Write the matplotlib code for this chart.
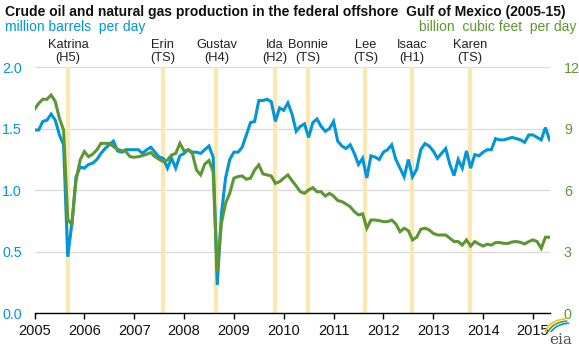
import matplotlib
matplotlib.use('Agg')
import matplotlib.pyplot as plt
import numpy as np
from matplotlib.patches import Arc

plt.rcParams['font.family'] = ['Liberation Sans', 'DejaVu Sans']

# monthly values, Jan 2005 - May 2015
oil = [1.49, 1.49, 1.56, 1.57, 1.62, 1.57, 1.45, 1.37, 0.46, 0.73, 1.11, 1.19,
       1.18, 1.21, 1.22, 1.25, 1.30, 1.34, 1.37, 1.40, 1.32, 1.31, 1.33, 1.33,
       1.33, 1.33, 1.30, 1.33, 1.35, 1.31, 1.27, 1.26, 1.18, 1.26, 1.18, 1.28,
       1.30, 1.33, 1.31, 1.31, 1.30, 1.33, 1.36, 1.27, 0.23, 0.81, 1.10, 1.25,
       1.31, 1.31, 1.35, 1.45, 1.55, 1.56, 1.73, 1.73, 1.74, 1.72, 1.56, 1.67,
       1.65, 1.71, 1.62, 1.48, 1.52, 1.54, 1.43, 1.55, 1.58, 1.52, 1.48, 1.50,
       1.56, 1.40, 1.36, 1.34, 1.37, 1.30, 1.21, 1.26, 1.10, 1.28, 1.27, 1.25,
       1.31, 1.33, 1.37, 1.25, 1.18, 1.11, 1.25, 1.11, 1.17, 1.33, 1.38, 1.36,
       1.32, 1.26, 1.30, 1.34, 1.21, 1.12, 1.25, 1.18, 1.32, 1.18, 1.29, 1.28,
       1.31, 1.33, 1.33, 1.42, 1.41, 1.41, 1.42, 1.43, 1.42, 1.41, 1.39, 1.45,
       1.45, 1.43, 1.41, 1.51, 1.41]
gas = [9.95, 10.24, 10.44, 10.44, 10.65, 10.33, 9.51, 8.94, 4.55, 4.36, 6.50, 7.48,
       7.89, 7.64, 7.76, 7.97, 8.29, 8.29, 8.29, 8.13, 8.00, 7.93, 7.89, 7.64,
       7.61, 7.64, 7.69, 7.76, 7.84, 7.64, 7.51, 7.40, 7.48, 7.72, 7.80, 8.29,
       7.92, 7.97, 7.80, 6.99, 6.75, 7.28, 7.45, 6.91, 2.03, 4.39, 5.37, 5.85,
       6.59, 6.67, 6.70, 6.54, 6.59, 6.99, 7.24, 6.80, 6.75, 6.70, 6.34, 6.42,
       6.59, 6.75, 6.47, 6.21, 5.93, 5.85, 6.02, 6.13, 5.93, 5.93, 5.72, 5.85,
       5.72, 5.50, 5.45, 5.33, 5.20, 4.96, 4.80, 4.85, 4.15, 4.55, 4.55, 4.52,
       4.47, 4.47, 4.55, 4.36, 3.98, 4.15, 4.03, 3.58, 3.71, 4.10, 4.15, 4.07,
       3.90, 3.82, 3.82, 3.82, 3.66, 3.50, 3.50, 3.33, 3.58, 3.28, 3.50, 3.38,
       3.28, 3.37, 3.33, 3.45, 3.45, 3.41, 3.41, 3.48, 3.50, 3.46, 3.38, 3.50,
       3.58, 3.50, 3.17, 3.71, 3.71]

storm_names = ['Katrina', 'Erin', 'Gustav', 'Ida', 'Bonnie', 'Lee', 'Isaac', 'Karen']
storm_cat = ['(H5)', '(TS)', '(H4)', '(H2)', '(TS)', '(TS)', '(H1)', '(TS)']
storm_time = [2005.67, 2007.57, 2008.65, 2009.82, 2010.48, 2011.64, 2012.57, 2013.73]

years = list(range(2005, 2016))

blue = '#0096d7'
green = '#5d9732'

x = 2005 + np.arange(len(oil)) / 12.0

fig = plt.figure(figsize=(5.79, 3.51), dpi=100)
ax = fig.add_axes([0.0596, 0.1074, 0.8904, 0.7009])
ax2 = ax.twinx()

# storm bars
for t, nm, c in zip(storm_time, storm_names, storm_cat):
    ax.axvline(t, color='#fbe7b0', lw=3, zorder=1)
    ax.text(t, 1.0 + 3/246, nm + '\n' + c, transform=ax.get_xaxis_transform(),
            ha='center', va='bottom', fontsize=9.3, linespacing=1.1, color='#222222')

ax.plot(x, oil, color=blue, lw=2.2, zorder=3, solid_joinstyle='miter')
ax2.plot(x, gas, color=green, lw=2.2, zorder=3, solid_joinstyle='miter')

ax.set_xlim(2005, x[-1] + 0.01)
ax.set_ylim(0, 2.0)
ax2.set_ylim(0, 12)
ax.set_yticks([0, 0.5, 1.0, 1.5, 2.0])
ax.set_yticklabels(['0.0', '0.5', '1.0', '1.5', '2.0'])
ax2.set_yticks([0, 3, 6, 9, 12])
ax.set_xticks(years)
ax.set_xticklabels([str(y) for y in years])

ax.grid(axis='y', color='#d9d9d9', lw=0.9)
ax.set_axisbelow(True)
for a in (ax, ax2):
    for s in ['top', 'left', 'right', 'bottom']:
        a.spines[s].set_visible(False)
ax.spines['bottom'].set_visible(True)
ax.spines['bottom'].set_color('black')
ax.spines['bottom'].set_linewidth(1)
ax.spines['bottom'].set_zorder(5)

ax.tick_params(axis='y', length=0, pad=9, labelcolor=blue, labelsize=10.3)
ax2.tick_params(axis='y', length=0, pad=10, labelcolor=green, labelsize=10.3)
ax.tick_params(axis='x', length=4, width=1, direction='out', pad=4, labelsize=10.5,
               labelcolor='#111111')

fig.text(0.009, 0.965, 'Crude oil and natural gas production in the federal offshore  Gulf of Mexico (2005-15)',
         fontsize=10, fontweight='bold', ha='left', va='center', color='#111111')
fig.text(0.009, 0.922, 'million barrels  per day', fontsize=10, color=blue, ha='left', va='center')
fig.text(0.995, 0.922, 'billion  cubic feet  per day', fontsize=10, color=green, ha='right', va='center')

# eia logo
fig.text(0.968, 0.03, 'eia', fontsize=11, family='DejaVu Serif', color='#555555',
         ha='center', va='center')
lax = fig.add_axes([0.935, 0.055, 0.06, 0.06])
lax.set_xlim(0, 1)
lax.set_ylim(0, 1)
lax.axis('off')
lax.add_patch(Arc((0.7, -0.2), 1.2, 1.6, theta1=90, theta2=170, color='#f5c400', lw=1.2))
lax.add_patch(Arc((0.75, -0.3), 1.2, 1.6, theta1=90, theta2=170, color='#5d9732', lw=1.2))
lax.add_patch(Arc((0.8, -0.4), 1.2, 1.6, theta1=90, theta2=170, color=blue, lw=1.2))

fig.savefig('out.png', dpi=100)
